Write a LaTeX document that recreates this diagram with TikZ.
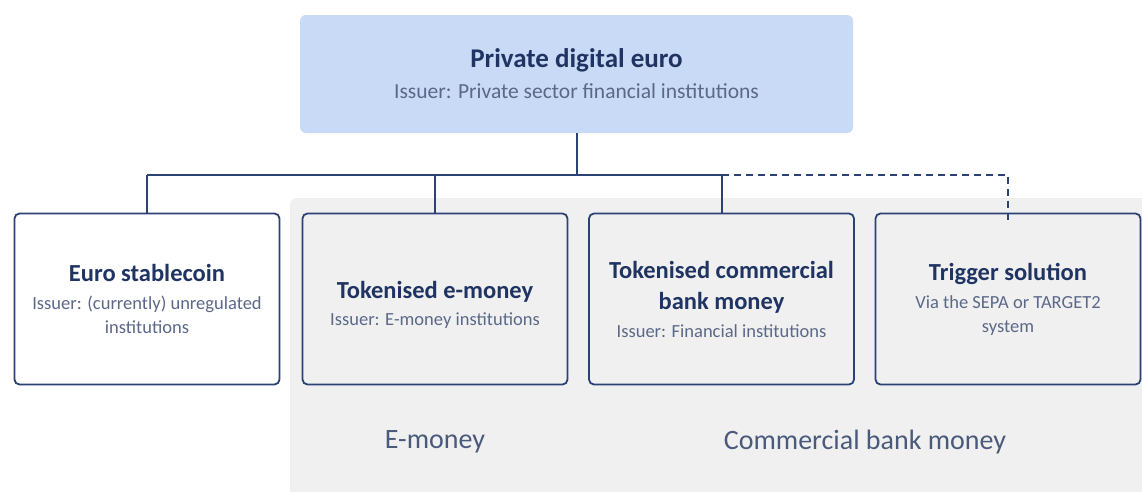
\documentclass[tikz,border=0pt]{standalone}
\usepackage{fontspec}
\setmainfont{Carlito}
\definecolor{topfill}{HTML}{C9DAF6}
\definecolor{navy}{HTML}{1F3462}
\definecolor{boxline}{HTML}{2C4275}
\definecolor{subtxt}{HTML}{5B6888}
\definecolor{grayarea}{HTML}{F0F0F0}
\definecolor{lbl}{HTML}{4A5A7A}
\tikzset{
  catbox/.style={draw=boxline, line width=1.8pt, rounded corners=5pt, minimum width=265pt, minimum height=171pt, align=center, inner sep=2pt, font=\fontsize{18.5}{24}\selectfont},
  conn/.style={draw=boxline, line width=2pt},
  bottomlbl/.style={font=\fontsize{28}{32}\selectfont, text=lbl},
}
\newcommand{\ttl}[1]{{\fontsize{24.5}{30}\selectfont\bfseries\color{navy}#1}}
\newcommand{\sbt}[1]{{\color{subtxt}#1}}
\begin{document}
\begin{tikzpicture}[x=1pt,y=-1pt]
\useasboundingbox (0,0) rectangle (1142,491);
\fill[grayarea, rounded corners=6pt] (290,198) rectangle (1150,500);
\node[fill=topfill, rounded corners=6pt, minimum width=553pt, minimum height=118pt, align=center, inner sep=0pt, font=\fontsize{21.5}{31}\selectfont] (top) at (576.5,74)
  {{\fontsize{27}{31}\selectfont\bfseries\color{navy}Private digital euro}\\{\color{subtxt}Issuer: Private sector financial institutions}};
\node[catbox, fill=white] (b1) at (147,299) {\ttl{Euro stablecoin}\\[4pt]\sbt{Issuer: (currently) unregulated}\\\sbt{institutions}};
\node[catbox, fill=grayarea, text height=55pt] (b2) at (435,299) {\ttl{Tokenised e-money}\\[3pt]\sbt{Issuer: E-money institutions}};
\node[catbox, fill=grayarea] (b3) at (721.5,299) {\ttl{Tokenised commercial}\\[7pt]\ttl{bank money}\\[4pt]\sbt{Issuer: Financial institutions}};
\node[catbox, fill=grayarea] (b4) at (1008,299) {\ttl{Trigger solution}\\[4pt]\sbt{Via the SEPA or TARGET2}\\\sbt{system}};
\coordinate (bus) at (575,175);
\draw[conn] (top.south) -- (top.south |- bus);
\draw[conn] (b1.north |- bus) -- (b3.north |- bus);
\draw[conn] (b1.north) -- (b1.north |- bus);
\draw[conn] (b2.north) -- (b2.north |- bus);
\draw[conn] (b3.north) -- (b3.north |- bus);
\draw[conn, dashed, dash pattern=on 7pt off 5pt] (b3.north |- bus) -- (b4.north |- bus) -- ([yshift=-8pt]b4.north);
\node[bottomlbl] (lem) at (435,442) {E-money};
\node[bottomlbl] (lcb) at (865,442) {Commercial bank money};
\end{tikzpicture}
\end{document}
